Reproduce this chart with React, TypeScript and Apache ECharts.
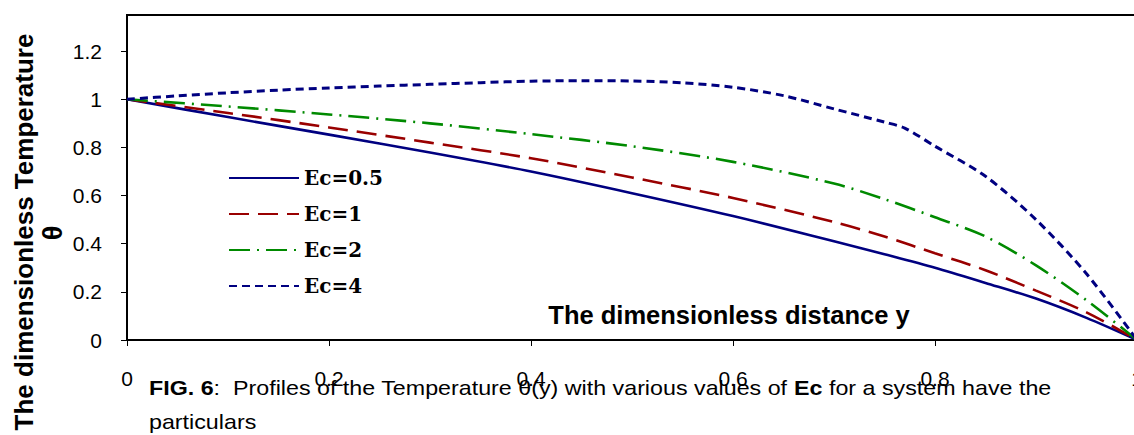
import React, { useEffect, useRef } from "react";
import * as echarts from "echarts";

const SANS = '"Liberation Sans", Arial, Helvetica, sans-serif';
const SERIF = '"DejaVu Serif", "Liberation Serif", serif';

// Tick labels
const xTickValues = [0, 0.2, 0.4, 0.6, 0.8, 1];
const yTickValues = [0, 0.2, 0.4, 0.6, 0.8, 1, 1.2];

// Series names
const seriesNames = ["Ec=0.5", "Ec=1", "Ec=2", "Ec=4"];

// Dimensionless distance y (shared by Ec=0.5, 1, 2)
const distA = [0, 0.1, 0.2, 0.3, 0.4, 0.5, 0.6, 0.7, 0.75, 0.8, 0.85, 0.9, 0.95, 1];
const thetaEc05 = [1, 0.926, 0.853, 0.779, 0.7, 0.61, 0.515, 0.41, 0.356, 0.3, 0.237, 0.172, 0.092, 0];
const thetaEc1 = [1, 0.943, 0.883, 0.82, 0.755, 0.675, 0.59, 0.49, 0.43, 0.36, 0.29, 0.205, 0.115, 0];
const thetaEc2 = [1, 0.97, 0.937, 0.9, 0.855, 0.805, 0.74, 0.65, 0.585, 0.51, 0.43, 0.31, 0.165, 0];

// Dimensionless distance y for Ec=4
const distB = [0, 0.05, 0.1, 0.15, 0.2, 0.25, 0.3, 0.35, 0.4, 0.45, 0.5, 0.55, 0.6, 0.65, 0.7, 0.75, 0.77, 0.8, 0.85, 0.9, 0.95, 1];
const thetaEc4 = [1, 1.014, 1.027, 1.038, 1.047, 1.055, 1.062, 1.069, 1.075, 1.077, 1.076, 1.068, 1.05, 1.015, 0.96, 0.905, 0.88, 0.805, 0.68, 0.5, 0.275, 0];

const pairs = (xs: number[], ys: number[]) => xs.map((x, i) => [x, ys[i]]);

export default function App() {
  const ref = useRef<HTMLDivElement>(null);

  useEffect(() => {
    if (!ref.current) return;
    const chart = echarts.init(ref.current, undefined, { renderer: "svg" });

    const capStyleR = { fontSize: 20, fontFamily: SANS, fill: "#000", fontWeight: "normal" as const };
    const capStyleB = { fontSize: 20, fontFamily: SANS, fill: "#000", fontWeight: "bold" as const };

    chart.setOption({
      animation: false,
      grid: {
        left: 127,
        top: 15,
        width: 1010,
        height: 325,
        containLabel: false,
        outerBoundsMode: "none",
        show: true,
        borderColor: "#000",
        borderWidth: 2,
        backgroundColor: "transparent",
      },
      xAxis: {
        type: "value",
        min: 0,
        max: 1,
        interval: 0.2,
        axisLine: { show: true, lineStyle: { color: "#000", width: 2 } },
        axisTick: { show: true, length: 6, lineStyle: { color: "#000", width: 1 } },
        axisLabel: {
          margin: 28,
          fontSize: 21,
          fontFamily: SANS,
          color: "#000",
          customValues: xTickValues,
        },
        splitLine: { show: false },
      },
      yAxis: {
        type: "value",
        min: 0,
        max: 1.35,
        interval: 0.2,
        axisLine: { show: true, onZero: false, lineStyle: { color: "#000", width: 2 } },
        axisTick: { show: true, length: 6, lineStyle: { color: "#000", width: 1 }, customValues: yTickValues },
        axisLabel: {
          margin: 25,
          fontSize: 21,
          fontFamily: SANS,
          color: "#000",
          customValues: yTickValues,
        },
        splitLine: { show: false },
      },
      legend: {
        orient: "vertical",
        left: 228,
        top: 166,
        padding: 0,
        itemWidth: 70,
        itemHeight: 14,
        itemGap: 12,
        data: seriesNames,
        itemStyle: { opacity: 0 },
        textStyle: {
          fontFamily: SERIF,
          fontWeight: "bold",
          fontSize: 20,
          lineHeight: 24,
          color: "#000",
        },
      },
      series: [
        {
          name: seriesNames[0],
          type: "line",
          data: pairs(distA, thetaEc05),
          symbol: "none",
          smooth: 0.3,
          lineStyle: { color: "#000080", width: 2.6, type: "solid" },
          itemStyle: { color: "#000080" },
        },
        {
          name: seriesNames[1],
          type: "line",
          data: pairs(distA, thetaEc1),
          symbol: "none",
          smooth: 0.3,
          lineStyle: { color: "#990000", width: 2.6, type: [20, 9] },
          itemStyle: { color: "#990000" },
        },
        {
          name: seriesNames[2],
          type: "line",
          data: pairs(distA, thetaEc2),
          symbol: "none",
          smooth: 0.3,
          lineStyle: { color: "#008a00", width: 2.6, type: [21, 7, 2, 7] },
          itemStyle: { color: "#008a00" },
        },
        {
          name: seriesNames[3],
          type: "line",
          data: pairs(distB, thetaEc4),
          symbol: "none",
          smooth: 0.3,
          lineStyle: { color: "#000080", width: 3, type: [8, 5] },
          itemStyle: { color: "#000080" },
        },
      ],
      graphic: [
        {
          type: "text",
          x: 729,
          y: 315,
          style: {
            text: "The dimensionless distance y",
            fontSize: 25.5,
            fontWeight: "bold",
            fontFamily: SANS,
            fill: "#000",
            align: "center",
            verticalAlign: "middle",
          },
        },
        {
          type: "text",
          x: 23.5,
          y: 232,
          rotation: Math.PI / 2,
          style: {
            text: "The dimensionless Temperature",
            fontSize: 26,
            fontWeight: "bold",
            fontFamily: SANS,
            fill: "#000",
            align: "center",
            verticalAlign: "middle",
          },
        },
        {
          type: "text",
          x: 52.5,
          y: 233,
          rotation: Math.PI / 2,
          style: {
            text: "θ",
            fontSize: 27,
            fontWeight: "bold",
            fontFamily: SANS,
            fill: "#000",
            align: "center",
            verticalAlign: "middle",
          },
        },
        {
          type: "text",
          x: 149,
          y: 388,
          scaleX: 1.163,
          style: {
            text:
              "{b|FIG. 6}{r|:  Profiles of the Temperature θ(y) with various values of }{b|Ec}{r| for a system have the}",
            rich: { b: capStyleB, r: capStyleR },
            fontSize: 20,
            fontFamily: SANS,
            fill: "#000",
            align: "left",
            verticalAlign: "middle",
          },
        },
        {
          type: "text",
          x: 149,
          y: 422,
          scaleX: 1.163,
          style: {
            text: "particulars",
            fontSize: 20,
            fontFamily: SANS,
            fill: "#000",
            align: "left",
            verticalAlign: "middle",
          },
        },
      ],
    });

    return () => {
      chart.dispose();
    };
  }, []);

  return (
    <div
      ref={ref}
      style={{ position: "absolute", left: 0, top: 0, width: 1134, height: 435, background: "#fff" }}
    />
  );
}
